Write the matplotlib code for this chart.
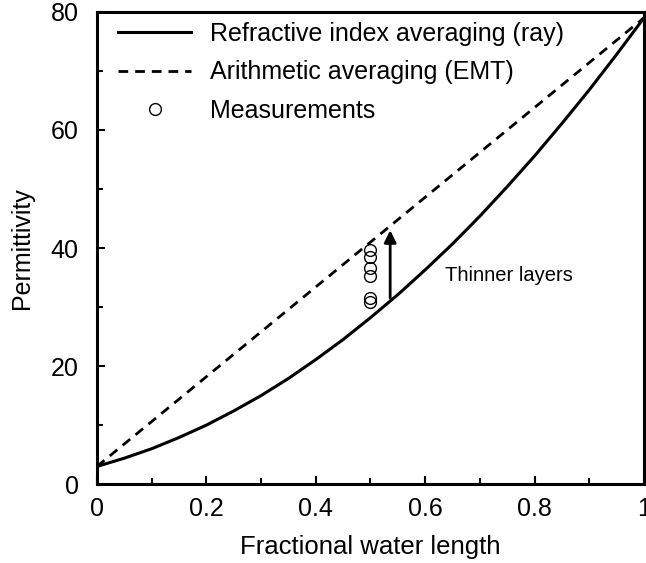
import matplotlib
matplotlib.use("Agg")
import matplotlib.pyplot as plt
from matplotlib.ticker import MultipleLocator

plt.rcParams['font.family'] = ['Liberation Sans', 'DejaVu Sans']

# Refractive index averaging (ray)
x_ray = [0.0, 0.05, 0.1, 0.15, 0.2, 0.25, 0.3, 0.35, 0.4, 0.45, 0.5,
         0.55, 0.6, 0.65, 0.7, 0.75, 0.8, 0.85, 0.9, 0.95, 1.0]
y_ray = [3.0, 4.4, 6.0, 7.9, 10.0, 12.4, 15.0, 17.9, 21.1, 24.5, 28.2,
         32.1, 36.3, 40.7, 45.4, 50.4, 55.6, 61.1, 66.8, 72.8, 79.0]

# Arithmetic averaging (EMT)
x_emt = [0.0, 1.0]
y_emt = [3.0, 79.0]

# Measurements
x_meas = [0.5, 0.5, 0.5, 0.5, 0.5, 0.5]
y_meas = [39.6, 38.4, 36.6, 35.3, 31.6, 30.9]

# Arrow (thinner layers)
arrow_x = 0.536
arrow_y0 = 31.5
arrow_y1 = 43.0

fig = plt.figure(figsize=(6.46, 5.63), dpi=100)
ax = fig.add_axes([0.150, 0.140, 0.847, 0.839])

ax.plot(x_ray, y_ray, color='black', lw=2.2, label='Refractive index averaging (ray)')
ax.plot(x_emt, y_emt, color='black', lw=2.0, dashes=(3.5, 2.5),
        label='Arithmetic averaging (EMT)')
ax.plot(x_meas, y_meas, linestyle='none', marker='o', ms=8.5, mfc='none',
        mec='black', mew=1.0, label='Measurements')

ax.annotate('', xy=(arrow_x, arrow_y1), xytext=(arrow_x, arrow_y0),
            arrowprops=dict(arrowstyle='-|>', color='black', lw=2.0,
                            mutation_scale=18, shrinkA=0, shrinkB=0))
ax.text(0.636, 35.3, 'Thinner layers', fontsize=14.5, va='center', ha='left')

ax.set_xlim(0, 1)
ax.set_ylim(0, 80)
ax.xaxis.set_major_locator(MultipleLocator(0.2))
ax.xaxis.set_minor_locator(MultipleLocator(0.1))
ax.yaxis.set_major_locator(MultipleLocator(20))
ax.yaxis.set_minor_locator(MultipleLocator(10))
ax.set_xticks([0, 0.2, 0.4, 0.6, 0.8, 1.0])
ax.set_xticklabels(['0', '0.2', '0.4', '0.6', '0.8', '1'])
ax.tick_params(which='both', direction='in', labelsize=18, width=1.5)
ax.tick_params(axis='x', which='major', length=6, pad=9)
ax.tick_params(axis='y', which='major', length=6, pad=13)
ax.tick_params(which='minor', length=4)
for s in ax.spines.values():
    s.set_linewidth(2.2)

ax.set_xlabel('Fractional water length', fontsize=18.5, labelpad=10)
ax.set_ylabel('Permittivity', fontsize=18, labelpad=12)

leg = ax.legend(loc='upper left', frameon=False, fontsize=18, handlelength=2.9,
                handletextpad=0.75, labelspacing=0.58, borderaxespad=0.0,
                borderpad=0.4, bbox_to_anchor=(0.021, 1.0))

fig.savefig('out.png', dpi=100)
